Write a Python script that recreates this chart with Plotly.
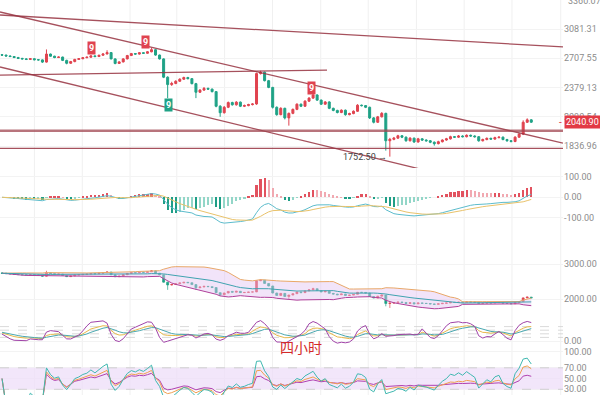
import math
import pandas as pd
import plotly.graph_objects as go

# ---------------- data (4h candles) ----------------
opens = [2750, 2745, 2735, 2728, 2716, 2706, 2700, 2694, 2702, 2690, 2688, 2662, 2758, 2732, 2716, 2722, 2682, 2648, 2668, 2694,
         2702, 2714, 2720, 2736, 2728, 2744, 2760, 2776, 2700, 2646, 2664, 2700, 2740, 2764, 2758, 2774, 2768, 2786, 2812, 2746,
         2700, 2490, 2410, 2422, 2446, 2468, 2486, 2474, 2420, 2330, 2352, 2370, 2362, 2336, 2190, 2128, 2180, 2226, 2204, 2230,
         2190, 2196, 2206, 2212, 2530, 2546, 2452, 2380, 2180, 2110, 2170, 2080, 2122, 2160, 2210, 2190, 2240, 2270, 2302, 2250,
         2210, 2232, 2170, 2150, 2130, 2152, 2110, 2120, 2142, 2200, 2196, 2180, 2080, 2040, 2090, 2122, 1880, 1892, 1902, 1922,
         1910, 1880, 1902, 1870, 1896, 1886, 1880, 1868, 1856, 1872, 1886, 1896, 1914, 1910, 1920, 1914, 1926, 1920, 1914, 1880,
         1890, 1900, 1894, 1906, 1910, 1890, 1880, 1874, 1910, 1936, 2040, 2062]
highs = [2758, 2752, 2742, 2734, 2724, 2712, 2708, 2710, 2706, 2698, 2694, 2815, 2764, 2738, 2730, 2726, 2690, 2676, 2700, 2710,
         2720, 2728, 2744, 2742, 2750, 2768, 2805, 2782, 2706, 2672, 2708, 2748, 2772, 2770, 2782, 2780, 2794, 2832, 2818, 2752,
         2706, 2500, 2440, 2456, 2478, 2496, 2494, 2480, 2428, 2362, 2384, 2378, 2368, 2342, 2200, 2192, 2236, 2234, 2240, 2236,
         2206, 2214, 2220, 2540, 2562, 2552, 2460, 2386, 2188, 2180, 2176, 2130, 2168, 2218, 2216, 2248, 2280, 2330, 2308, 2256,
         2240, 2238, 2176, 2156, 2160, 2158, 2128, 2150, 2210, 2206, 2202, 2186, 2088, 2098, 2134, 2128, 1904, 1912, 1930, 1928,
         1916, 1910, 1906, 1904, 1902, 1892, 1886, 1874, 1880, 1892, 1904, 1922, 1920, 1928, 1926, 1934, 1932, 1926, 1920, 1898,
         1908, 1906, 1914, 1918, 1916, 1896, 1886, 1918, 1944, 2058, 2076, 2068]
lows = [2738, 2728, 2722, 2710, 2698, 2692, 2686, 2688, 2682, 2680, 2652, 2656, 2726, 2708, 2710, 2674, 2636, 2642, 2660, 2688,
        2696, 2708, 2714, 2720, 2722, 2738, 2752, 2694, 2636, 2640, 2658, 2694, 2734, 2750, 2752, 2760, 2762, 2780, 2738, 2692,
        2480, 2270, 2396, 2414, 2438, 2460, 2466, 2412, 2270, 2322, 2344, 2354, 2328, 2180, 2090, 2120, 2172, 2196, 2196, 2182,
        2182, 2190, 2198, 2204, 2520, 2444, 2372, 2168, 2100, 2104, 2066, 2010, 2114, 2152, 2182, 2184, 2232, 2262, 2242, 2202,
        2204, 2162, 2142, 2122, 2124, 2100, 2104, 2114, 2136, 2188, 2172, 2070, 2030, 2034, 2084, 1800, 1752.5, 1884, 1896, 1902,
        1872, 1874, 1862, 1864, 1878, 1872, 1860, 1840, 1850, 1866, 1880, 1890, 1904, 1904, 1908, 1908, 1914, 1906, 1872, 1874,
        1884, 1888, 1888, 1900, 1884, 1872, 1866, 1868, 1904, 1928, 2034, 2034]
closes = [2745, 2735, 2728, 2716, 2706, 2700, 2694, 2702, 2690, 2688, 2662, 2758, 2732, 2716, 2722, 2682, 2648, 2668, 2694, 2702,
          2714, 2720, 2736, 2728, 2744, 2760, 2776, 2700, 2646, 2664, 2700, 2740, 2764, 2758, 2774, 2768, 2786, 2812, 2746, 2700,
          2490, 2410, 2422, 2446, 2468, 2486, 2474, 2420, 2330, 2352, 2370, 2362, 2336, 2190, 2128, 2180, 2226, 2204, 2230, 2190,
          2196, 2206, 2212, 2530, 2546, 2452, 2380, 2180, 2110, 2170, 2080, 2122, 2160, 2210, 2190, 2240, 2270, 2302, 2250, 2210,
          2232, 2170, 2150, 2130, 2152, 2110, 2120, 2142, 2200, 2196, 2180, 2080, 2040, 2090, 2122, 1880, 1892, 1902, 1922, 1910,
          1880, 1902, 1870, 1896, 1886, 1880, 1868, 1856, 1872, 1886, 1896, 1914, 1910, 1920, 1914, 1926, 1920, 1914, 1880, 1890,
          1900, 1894, 1906, 1910, 1890, 1880, 1874, 1910, 1936, 2040, 2062, 2040.90]
idx = list(range(len(closes)))

last_price = 2040.90
low_label = 1752.50

# drawn trend / level lines: (index, price) end points
trend_x = {"top": [-0.5, 138.86], "chan_hi": [-0.5, 138.86], "chan_lo": [-0.5, 138.86],
           "level_a": [-0.5, 80.44], "level_b": [-0.5, 138.86], "level_c": [-0.5, 138.86]}
trend_y = {"top": [3278, 2846], "chan_hi": [3322, 1861], "chan_lo": [2605, 1423],
           "level_a": [2514, 2570], "level_b": [1965, 1965], "level_c": [1818, 1818]}

# sequential "9" signals: (index, price level of the box, colour kind)
sig_x = [22.2, 35.4, 76.5, 41.3]
sig_y = [2837, 2912, 2373, 2202]
sig_kind = ["up", "up", "up", "down"]

main_ticks = [3081.31, 2707.55, 2379.13, 2090.54, 1836.96]
macd_ticks = [100, 0, -100]
boll_ticks = [3000, 2000]
kdj_ticks = [0]
rsi_ticks = [100, 70, 50, 30]
kdj_levels = [80, 60, 40, 20]
grid_idx = [8.01, 19.87, 31.68, 43.26, 55.09, 66.95, 78.88, 90.64, 102.57, 114.4, 126.23, 138.29]

# ---------------- indicators derived from the candles ----------------
c = pd.Series(closes, dtype=float)
h = pd.Series(highs, dtype=float)
l = pd.Series(lows, dtype=float)
ema12 = c.ewm(span=12, adjust=False).mean()
ema26 = c.ewm(span=26, adjust=False).mean()
dif = ema12 - ema26
dea = dif.ewm(span=9, adjust=False).mean()
hist = 2 * (dif - dea)
hcol = []
for i, v in enumerate(hist):
    prev = hist[i - 1] if i > 0 else 0
    if v >= 0:
        hcol.append("#e2525f" if v >= prev else "#f1a9b1")
    else:
        hcol.append("#1f9e86" if v <= prev else "#93d6c8")

mid = c.rolling(20, min_periods=1).mean()
sd = c.rolling(20, min_periods=1).std(ddof=0)
upper = mid + 2 * sd
lower = mid - 2 * sd

ll = l.rolling(9, min_periods=1).min()
hh = h.rolling(9, min_periods=1).max()
rsv = ((c - ll) / (hh - ll) * 100).fillna(50)
K, D = [], []
k = d = 50.0
for r in rsv:
    k = 2 / 3 * k + r / 3
    d = 2 / 3 * d + k / 3
    K.append(k)
    D.append(d)
J = [3 * a - 2 * b for a, b in zip(K, D)]


def rsi(n):
    delta = c.diff().fillna(0)
    up = delta.clip(lower=0).ewm(alpha=1 / n, adjust=False).mean()
    dn = (-delta.clip(upper=0)).ewm(alpha=1 / n, adjust=False).mean()
    return (100 * up / (up + dn)).fillna(50)


rsi6, rsi12, rsi24 = rsi(6), rsi(12), rsi(24)

# ---------------- figure ----------------
UP, DOWN = "#e0434f", "#1fa286"
LINEC = "rgba(150,50,65,0.85)"
fig = go.Figure()

for name in ["top", "chan_hi", "chan_lo", "level_a", "level_c"]:
    fig.add_trace(go.Scatter(x=trend_x[name], y=trend_y[name], mode="lines",
                             line=dict(color=LINEC, width=1.3), yaxis="y", hoverinfo="skip"))
fig.add_trace(go.Scatter(x=trend_x["level_b"], y=trend_y["level_b"], mode="lines",
                         line=dict(color="rgba(160,70,80,0.75)", width=2.6), yaxis="y", hoverinfo="skip"))

fig.add_trace(go.Candlestick(x=idx, open=opens, high=highs, low=lows, close=closes, yaxis="y",
                             increasing=dict(line=dict(color=UP, width=1), fillcolor=UP),
                             decreasing=dict(line=dict(color=DOWN, width=1), fillcolor=DOWN),
                             whiskerwidth=0))

# MACD
fig.add_trace(go.Bar(x=idx, y=hist, marker=dict(color=hcol, line=dict(width=0)), width=0.55, yaxis="y2"))
fig.add_trace(go.Scatter(x=idx, y=dif, mode="lines", line=dict(color="#5cbccc", width=1), yaxis="y2"))
fig.add_trace(go.Scatter(x=idx, y=dea, mode="lines", line=dict(color="#e9c26a", width=1), yaxis="y2"))

# Bollinger
fig.add_trace(go.Scatter(x=idx, y=upper, mode="lines", line=dict(color="#e9a868", width=1), yaxis="y3"))
fig.add_trace(go.Scatter(x=idx, y=lower, mode="lines", line=dict(color="#b0409a", width=1), yaxis="y3",
                         fill="tonexty", fillcolor="rgba(226,196,242,0.45)"))
fig.add_trace(go.Scatter(x=idx, y=mid, mode="lines", line=dict(color="#3fa3b0", width=1), yaxis="y3"))
fig.add_trace(go.Candlestick(x=idx, open=opens, high=highs, low=lows, close=closes, yaxis="y3",
                             increasing=dict(line=dict(color=UP, width=0.7), fillcolor=UP),
                             decreasing=dict(line=dict(color=DOWN, width=0.7), fillcolor=DOWN),
                             whiskerwidth=0))

# KDJ
for lv in kdj_levels:
    fig.add_trace(go.Scatter(x=[-0.5, 138.86], y=[lv, lv], mode="lines",
                             line=dict(color="#cfcfcf", width=0.8, dash="dash"), yaxis="y4"))
fig.add_trace(go.Scatter(x=idx, y=K, mode="lines", line=dict(color="#e8b84a", width=1), yaxis="y4"))
fig.add_trace(go.Scatter(x=idx, y=D, mode="lines", line=dict(color="#4aa8b0", width=1), yaxis="y4"))
fig.add_trace(go.Scatter(x=idx, y=J, mode="lines", line=dict(color="#a043a8", width=1), yaxis="y4"))

# RSI
fig.add_trace(go.Scatter(x=[-0.5, 138.86], y=[70, 70], mode="lines", line=dict(color="#c8c8c8", width=0.8, dash="dash"), yaxis="y5"))
fig.add_trace(go.Scatter(x=[-0.5, 138.86], y=[30, 30], mode="lines", line=dict(color="#c8c8c8", width=0.8, dash="dash"),
                         yaxis="y5", fill="tonexty", fillcolor="rgba(238,222,248,0.75)"))
fig.add_trace(go.Scatter(x=idx, y=rsi24, mode="lines", line=dict(color="#b040b0", width=1), yaxis="y5"))
fig.add_trace(go.Scatter(x=idx, y=rsi12, mode="lines", line=dict(color="#f0a050", width=1), yaxis="y5"))
fig.add_trace(go.Scatter(x=idx, y=rsi6, mode="lines", line=dict(color="#3fb8b0", width=1), yaxis="y5"))

shapes = []
for gx in grid_idx:
    shapes.append(dict(type="line", xref="x", yref="paper", x0=gx, x1=gx, y0=0, y1=1,
                       line=dict(color="#f0f0f0", width=1), layer="below"))

TF = dict(family="Roboto, Arial", size=9, color="#8c8c8c")
H = 395.0


def dom(a, b):
    return [1 - b / H, 1 - a / H]


def yax(domain, rng, ticks, fmt, typ="linear"):
    return dict(domain=domain, range=rng, type=typ, side="right", anchor="x",
                tickvals=ticks, ticktext=[fmt.format(t) for t in ticks], tickfont=TF,
                showgrid=True, gridcolor="#f3f3f3", zeroline=False, showline=False, ticks="")


annotations = []
for sx, sy, kind in zip(sig_x, sig_y, sig_kind):
    annotations.append(dict(x=sx, y=math.log10(sy), xref="x", yref="y", text="<b>9</b>", showarrow=False,
                            font=dict(family="Roboto, Arial", size=9, color="white"),
                            bgcolor="#e0434f" if kind == "up" else "#1fa286", borderpad=1))
annotations.append(dict(x=96, y=math.log10(low_label), xref="x", yref="y", text=f"{low_label:.2f} →",
                        showarrow=False, xanchor="right", xshift=-1,
                        font=dict(family="Roboto, Arial", size=9, color="#444")))
annotations.append(dict(x=1, y=math.log10(last_price), xref="paper", yref="y", text=f"{last_price:.2f}",
                        showarrow=False, xanchor="left", xshift=1, bgcolor="#e23a45", borderpad=1,
                        font=dict(family="Roboto, Arial", size=9, color="white")))
annotations.append(dict(x=1, y=math.log10(last_price), xref="paper", yref="y", text="-",
                        showarrow=False, xanchor="right", xshift=1,
                        font=dict(family="Roboto, Arial", size=10, color="#e23a45")))
annotations.append(dict(x=1, y=1, xref="paper", yref="paper", text="3360.07", showarrow=False,
                        xanchor="left", xshift=3, yanchor="middle", yshift=-1, font=TF))
annotations.append(dict(x=301 / 563, y=1 - 359 / H, xref="paper", yref="paper", text="四小时", showarrow=False,
                        font=dict(family="Noto Sans CJK SC", size=14, color="#d42a2a")))

fig.update_layout(
    width=600, height=395, margin=dict(l=0, r=37, t=0, b=0),
    paper_bgcolor="white", plot_bgcolor="white", showlegend=False, bargap=0,
    xaxis=dict(range=[-0.5, 138.86], showticklabels=False, showgrid=False, zeroline=False,
               rangeslider=dict(visible=False), fixedrange=True),
    yaxis=yax(dom(0, 168), [3.22186, 3.54441], main_ticks, "{:.2f}", "log"),
    yaxis2=yax(dom(168, 240), [-207.3, 142.2], macd_ticks, "{:.2f}"),
    yaxis3=yax(dom(242, 318), [1466, 3637], boll_ticks, "{:.2f}"),
    yaxis4=yax(dom(318, 346), [-27.8, 127.8], kdj_ticks, "{:.2f}"),
    yaxis5=yax(dom(346, 395), [19.4, 110.6], rsi_ticks, "{:.2f}"),
    shapes=shapes, annotations=annotations,
)
fig.write_html("out.html", config={"displayModeBar": False},
               post_script="document.body.style.margin='0px';document.body.style.overflow='hidden';")
